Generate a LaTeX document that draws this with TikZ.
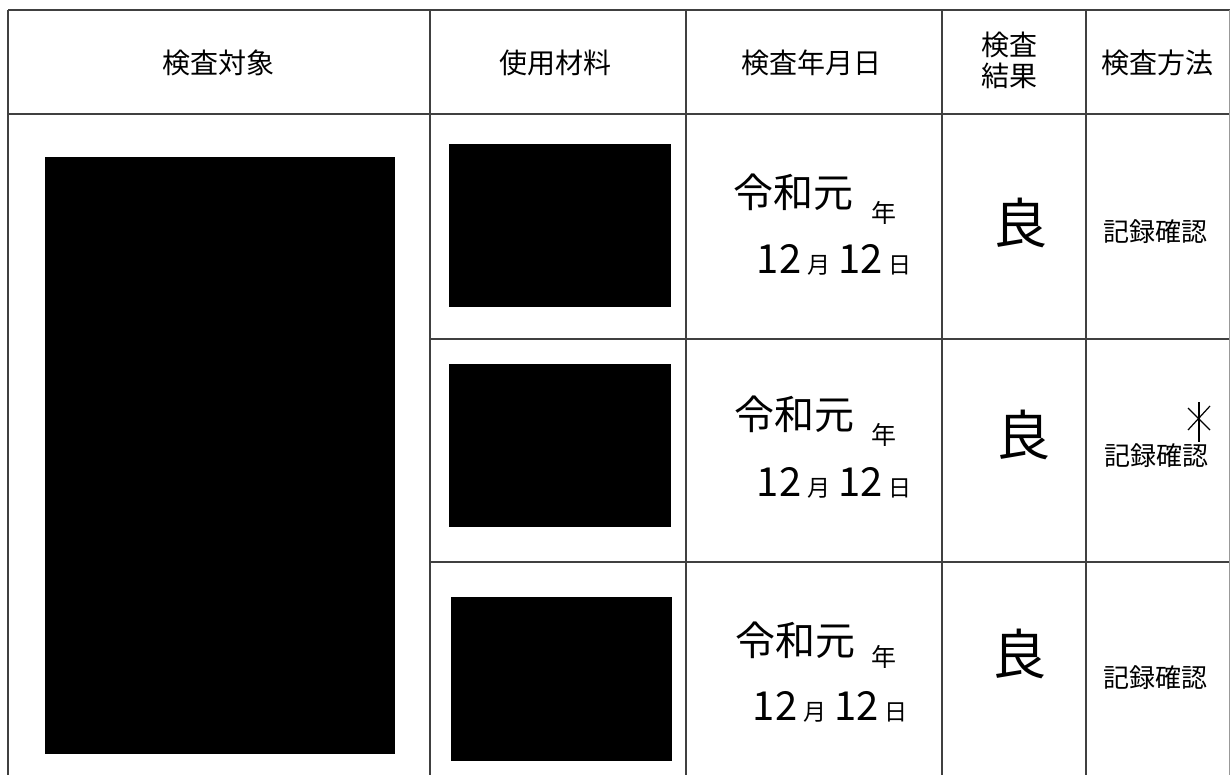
\documentclass[tikz,border=0pt]{standalone}
\usepackage{fontspec}
\setmainfont{Noto Sans CJK JP}
\tikzstyle{every node}=[inner sep=0pt, text=black]
\tikzstyle{header}=[font=\fontsize{28}{31}\selectfont, align=center]
\tikzstyle{written}=[font=\fontsize{40}{40}\selectfont]
\tikzstyle{printed}=[font=\fontsize{25}{25}\selectfont]
\tikzstyle{datum}=[anchor=west]
\tikzstyle{grade}=[font=\fontsize{54}{54}\selectfont]
\tikzstyle{method}=[font=\fontsize{26}{26}\selectfont]
\newcommand{\bignum}[1]{{\fontsize{40}{40}\selectfont #1}}
\newcommand{\smallkanji}[1]{{\fontsize{23}{23}\selectfont #1}}

\begin{document}
\begin{tikzpicture}[x=1pt, y=-1pt, line width=1.6pt, black!75]
\useasboundingbox (0,0) rectangle (1230,775);
% Rules
    \draw (8,10) -- (1230,10);
    \draw (8,114) -- (1230,114);
    \draw (430,339) -- (1230,339);
    \draw (430,562) -- (1230,562);
    \draw (8,10) -- (8,775);
    \draw (430,10) -- (430,775);
    \draw (686,10) -- (686,775);
    \draw (942,10) -- (942,775);
    \draw (1086,10) -- (1086,775);
    \draw[line width=0.8pt, black!40] (1229,10) -- (1229,775);
% Blacked-out cells
    \fill[black] (45,157) rectangle (395,754);
    \fill[black] (449,144) rectangle (671,307);
    \fill[black] (449,364) rectangle (671,527);
    \fill[black] (451,597) rectangle (672,761);
% Header
    \node[header] (target) at (218,63) {検査対象};
    \node[header] (material) at (555,63) {使用材料};
    \node[header] (date) at (811,63) {検査年月日};
    \node[header] (result) at (1009,60) {検査\\結果};
    \node[header] (method) at (1157,63) {検査方法};
% First row
    \node[written] (eraA) at (793,192) {令和元};
    \node[printed] (yearA) at (884,213) {年};
    \node[datum] (dayA) at (756,260) {\bignum{12}\hspace{6pt}\smallkanji{月}\hspace{8pt}\bignum{12}\hspace{6pt}\smallkanji{日}};
    \node[grade] (gradeA) at (1020,223) {良};
    \node[method] (checkA) at (1155,232) {記録確認};
% Second row
    \node[written] (eraB) at (794,414) {令和元};
    \node[printed] (yearB) at (884,435) {年};
    \node[datum] (dayB) at (756,483) {\bignum{12}\hspace{6pt}\smallkanji{月}\hspace{8pt}\bignum{12}\hspace{6pt}\smallkanji{日}};
    \node[grade] (gradeB) at (1023,435) {良};
    \node[method] (checkB) at (1156,456) {記録確認};
    \draw[line width=1.2pt, black] (1199,402) -- (1199,442);
    \draw[line width=1.2pt, black] (1188,408) -- (1210,430);
    \draw[line width=1.2pt, black] (1210,406) -- (1188,430);
% Third row
    \node[written] (eraC) at (795,640) {令和元};
    \node[printed] (yearC) at (884,657) {年};
    \node[datum] (dayC) at (752,707) {\bignum{12}\hspace{6pt}\smallkanji{月}\hspace{8pt}\bignum{12}\hspace{6pt}\smallkanji{日}};
    \node[grade] (gradeC) at (1019,654) {良};
    \node[method] (checkC) at (1155,678) {記録確認};
\end{tikzpicture}
\end{document}
